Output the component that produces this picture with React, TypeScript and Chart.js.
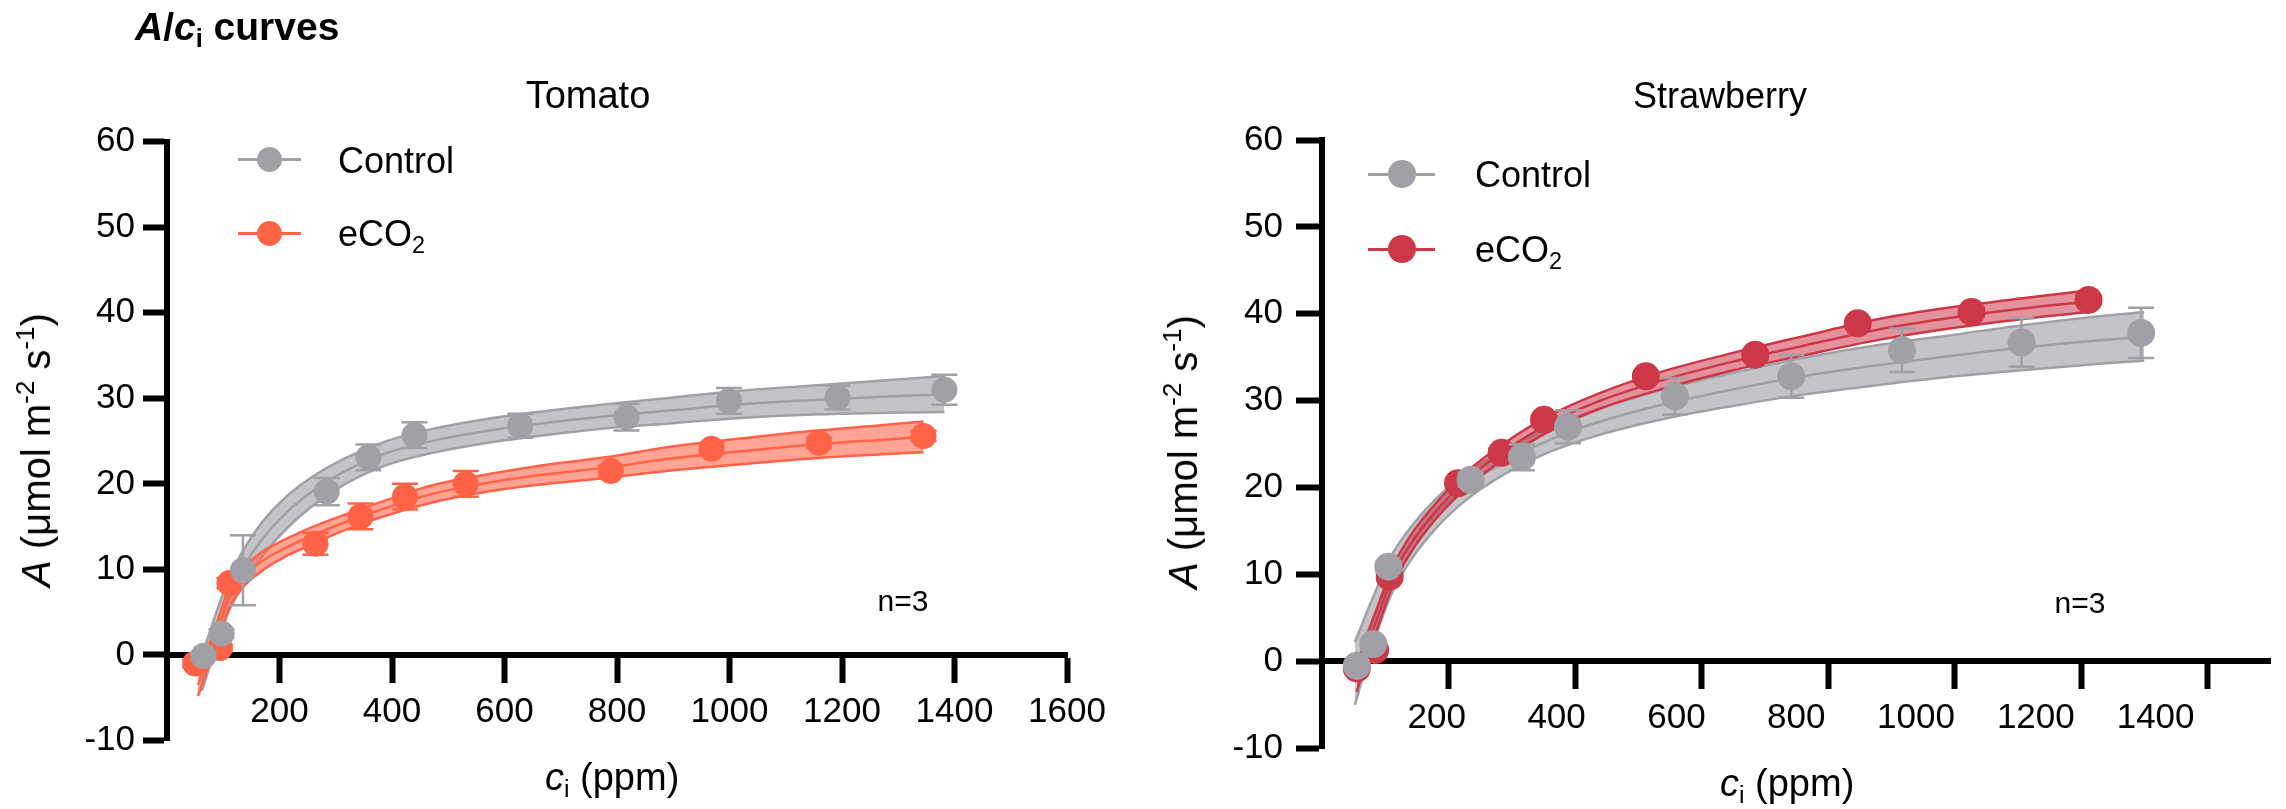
import React, { useEffect, useRef } from 'react';
import { Chart, registerables } from 'chart.js';

Chart.register(...registerables);

const FONT = '"Liberation Sans", Arial, Helvetica, sans-serif';

// ---------- Tomato: measured points (mean, SD) ----------
const tomatoCtrlCi = [65, 97, 135, 284, 358, 440, 628, 817, 999, 1192, 1382];
const tomatoCtrlA = [-0.1, 2.5, 9.9, 19.1, 23.1, 25.7, 26.8, 27.8, 29.7, 30.1, 31.0];
const tomatoCtrlSd = [0.4, 0.5, 4.1, 1.6, 1.5, 1.5, 1.4, 1.55, 1.5, 1.4, 1.75];
const tomatoECi = [50, 94, 111, 264, 344, 423, 531, 789, 968, 1159, 1345];
const tomatoEA = [-1.0, 0.8, 8.4, 13.0, 16.2, 18.5, 20.0, 21.5, 24.1, 24.8, 25.6];
const tomatoESd = [0.4, 0.4, 0.6, 1.3, 1.5, 1.5, 1.5, 0.6, 0.6, 0.6, 0.6];

// ---------- Tomato: fitted curves + confidence band ----------
const tomatoCtrlFitCi = [62, 75, 90, 110, 135, 170, 210, 260, 320, 390, 470, 560, 660, 780, 900, 1020, 1150, 1280, 1382];
const tomatoCtrlFit = [-2.5, 0.5, 3.5, 7.0, 10.2, 13.6, 16.5, 19.2, 21.6, 23.6, 25.0, 26.1, 27.0, 27.9, 28.6, 29.3, 29.8, 30.2, 30.5];
const tomatoCtrlLo = [-4.2, -1.5, 1.6, 5.1, 8.2, 11.6, 14.6, 17.5, 20.1, 22.2, 23.6, 24.7, 25.6, 26.5, 27.1, 27.7, 28.1, 28.3, 28.4];
const tomatoCtrlHi = [-0.3, 2.5, 5.4, 8.9, 12.2, 15.6, 18.4, 20.9, 23.1, 25.0, 26.4, 27.5, 28.4, 29.3, 30.1, 30.9, 31.5, 32.1, 32.6];
const tomatoEFitCi = [55, 70, 90, 110, 135, 170, 210, 260, 320, 390, 470, 560, 660, 780, 900, 1020, 1150, 1280, 1345];
const tomatoEFit = [-3.5, -0.8, 2.8, 6.6, 9.0, 11.0, 12.5, 14.0, 15.6, 17.2, 18.8, 20.0, 21.0, 21.9, 23.0, 23.8, 24.6, 25.2, 25.5];
const tomatoELo = [-4.8, -2.0, 1.6, 5.4, 7.9, 9.9, 11.5, 13.0, 14.7, 16.3, 17.8, 19.0, 19.9, 20.7, 21.6, 22.3, 23.0, 23.5, 23.7];
const tomatoEHi = [-2.2, 0.4, 4.0, 7.8, 10.1, 12.1, 13.5, 15.0, 16.5, 18.1, 19.8, 21.0, 22.1, 23.1, 24.4, 25.3, 26.2, 26.9, 27.3];

// ---------- Strawberry: measured points ----------
const strawCtrlCi = [55, 81, 105, 235, 316, 389, 558, 742, 917, 1106, 1295];
const strawCtrlA = [-0.5, 2.0, 10.9, 20.9, 23.5, 27.0, 30.5, 32.8, 35.8, 36.7, 37.8];
const strawCtrlSd = [0.5, 0.5, 0.6, 0.8, 1.5, 1.9, 2.1, 2.45, 2.5, 2.8, 2.9];
const strawECi = [55, 84, 107, 215, 284, 351, 512, 685, 847, 1027, 1212];
const strawEA = [-0.8, 1.3, 9.75, 20.5, 24.0, 27.8, 32.8, 35.3, 38.9, 40.2, 41.6];
const strawESd = [0.4, 0.4, 0.5, 0.5, 0.5, 0.5, 0.5, 0.5, 0.5, 0.5, 0.5];

// ---------- Strawberry: fitted curves + confidence band ----------
const strawCtrlFitCi = [52, 70, 90, 110, 140, 180, 230, 290, 360, 440, 540, 650, 760, 880, 1000, 1120, 1240, 1300];
const strawCtrlFit = [-1.5, 2.5, 6.5, 10.0, 13.5, 17.0, 20.2, 23.0, 25.5, 27.6, 29.6, 31.3, 32.8, 34.1, 35.2, 36.2, 37.0, 37.3];
const strawCtrlLo = [-5.0, -0.5, 4.0, 7.8, 11.6, 15.3, 18.7, 21.6, 24.1, 26.1, 27.9, 29.4, 30.7, 31.8, 32.8, 33.6, 34.3, 34.6];
const strawCtrlHi = [2.2, 5.5, 9.0, 12.2, 15.4, 18.7, 21.7, 24.4, 26.9, 29.1, 31.3, 33.2, 34.9, 36.4, 37.6, 38.8, 39.8, 40.2];
const strawEFitCi = [55, 70, 90, 110, 140, 180, 230, 290, 360, 440, 540, 650, 760, 880, 1000, 1120, 1212];
const strawEFit = [-2.0, 1.5, 5.5, 9.5, 13.5, 17.3, 21.0, 24.3, 27.4, 30.0, 32.4, 34.5, 36.3, 38.2, 39.6, 40.7, 41.4];
const strawELo = [-3.5, 0.2, 4.3, 8.4, 12.5, 16.4, 20.1, 23.4, 26.5, 29.1, 31.4, 33.5, 35.2, 37.0, 38.4, 39.5, 40.2];
const strawEHi = [-0.5, 2.8, 6.7, 10.6, 14.5, 18.2, 21.9, 25.2, 28.3, 30.9, 33.4, 35.5, 37.4, 39.4, 40.8, 41.9, 42.7];

// ---------- tick labels ----------
const yTicks = [-10, 0, 10, 20, 30, 40, 50, 60];
const tomatoXTicks = [200, 400, 600, 800, 1000, 1200, 1400, 1600];
const strawXTicks = [200, 400, 600, 800, 1000, 1200, 1400];

const GRAY = 'rgb(160,160,166)';
const GRAY_FILL = 'rgba(160,160,166,0.62)';
const TOMATO = 'rgb(255,99,71)';
const TOMATO_FILL = 'rgba(255,99,71,0.58)';
const STRAW = 'rgb(204,56,72)';
const STRAW_FILL = 'rgba(204,56,72,0.55)';

type Pt = { x: number; y: number };
const pts = (xs: number[], ys: number[]): Pt[] => xs.map((x, i) => ({ x, y: ys[i] }));

interface Series {
  color: string;
  fill: string;
  ci: number[];
  a: number[];
  sd: number[];
  fitCi: number[];
  fit: number[];
  lo: number[];
  hi: number[];
}

const errorBarPlugin = {
  id: 'errorBars',
  beforeDatasetDraw(chart: any, args: any) {
    const ds = chart.data.datasets[args.index];
    if (!ds.errorBars) return;
    const { ctx, scales } = chart;
    const xs = scales.x;
    const ys = scales.y;
    const cap = 13;
    ctx.save();
    ctx.strokeStyle = ds.errorColor;
    ctx.lineWidth = 2.5;
    ds.data.forEach((p: Pt, i: number) => {
      const e = ds.errorBars[i];
      const px = xs.getPixelForValue(p.x);
      const top = ys.getPixelForValue(p.y + e);
      const bot = ys.getPixelForValue(p.y - e);
      ctx.beginPath();
      ctx.moveTo(px, top);
      ctx.lineTo(px, bot);
      ctx.moveTo(px - cap, top);
      ctx.lineTo(px + cap, top);
      ctx.moveTo(px - cap, bot);
      ctx.lineTo(px + cap, bot);
      ctx.stroke();
    });
    ctx.restore();
  },
};

const lineDs = (data: Pt[], color: string, order: number, fill: any = false, bg = 'transparent') => ({
  data,
  xAxisID: 'x',
  yAxisID: 'y',
  borderColor: color,
  borderWidth: 2.5,
  pointRadius: 0,
  pointHoverRadius: 0,
  cubicInterpolationMode: 'monotone',
  fill,
  backgroundColor: bg,
  order,
});

const pointDs = (s: Series, order: number, radius: number) => ({
  data: pts(s.ci, s.a),
  xAxisID: 'x',
  yAxisID: 'y',
  showLine: false,
  pointRadius: radius,
  pointHoverRadius: radius,
  pointBorderWidth: 0,
  pointBackgroundColor: s.color,
  borderColor: s.color,
  errorBars: s.sd,
  errorColor: s.color,
  order,
});

const buildDatasets = (ctrl: Series, eco: Series, radius: number) => [
  pointDs(ctrl, 0, radius),
  pointDs(eco, 1, radius),
  lineDs(pts(eco.fitCi, eco.fit), eco.color, 2),
  lineDs(pts(eco.fitCi, eco.hi), eco.color, 3, '+1', eco.fill),
  lineDs(pts(eco.fitCi, eco.lo), eco.color, 3),
  lineDs(pts(ctrl.fitCi, ctrl.fit), ctrl.color, 4),
  lineDs(pts(ctrl.fitCi, ctrl.hi), ctrl.color, 5, '+1', ctrl.fill),
  lineDs(pts(ctrl.fitCi, ctrl.lo), ctrl.color, 5),
];

interface PanelProps {
  left: number;
  width: number;
  height: number;
  areaLeft: number;
  pad: { top: number; right: number; bottom: number };
  xMax: number;
  xTicks: number[];
  yTickLen: number;
  yPad: number;
  xPad: number;
  labelAxis?: { min: number; max: number; padding: number };
  radius: number;
  ctrl: Series;
  eco: Series;
}

const tickFont = { family: FONT, size: 35 };

const Panel: React.FC<PanelProps> = (p) => {
  const ref = useRef<HTMLCanvasElement | null>(null);

  useEffect(() => {
    if (!ref.current) return;
    const setTicks = (arr: number[]) => (scale: any) => {
      scale.ticks = arr.map((v) => ({ value: v }));
    };
    const scales: any = {
      x: {
        type: 'linear',
        axis: 'x',
        position: { y: 0 },
        min: 0,
        max: p.xMax,
        afterBuildTicks: setTicks(p.xTicks),
        ticks: {
          display: !p.labelAxis,
          color: '#000',
          font: tickFont,
          padding: p.xPad,
          maxRotation: 0,
          autoSkip: false,
          callback: (v: number) => String(v),
        },
        grid: {
          display: true,
          drawOnChartArea: false,
          drawTicks: true,
          tickLength: 25,
          tickWidth: 6,
          tickColor: '#000',
        },
        border: { display: true, color: '#000', width: 6 },
      },
      y: {
        type: 'linear',
        position: 'left',
        min: -10,
        max: 60,
        afterBuildTicks: setTicks(yTicks),
        afterFit: (scale: any) => {
          scale.width = p.areaLeft;
        },
        ticks: {
          color: '#000',
          font: tickFont,
          padding: p.yPad,
          callback: (v: number) => String(v),
        },
        grid: {
          display: true,
          drawOnChartArea: false,
          drawTicks: true,
          tickLength: p.yTickLen,
          tickWidth: 6,
          tickColor: '#000',
        },
        border: { display: true, color: '#000', width: 6 },
      },
    };
    if (p.labelAxis) {
      // label-only axis: the original places its c_i labels slightly off the tick marks
      scales.xl = {
        type: 'linear',
        axis: 'x',
        position: { y: 0 },
        min: p.labelAxis.min,
        max: p.labelAxis.max,
        afterBuildTicks: setTicks(p.xTicks),
        ticks: {
          color: '#000',
          font: tickFont,
          padding: p.labelAxis.padding,
          maxRotation: 0,
          autoSkip: false,
          callback: (v: number) => String(v),
        },
        grid: { display: false, drawTicks: false },
        border: { display: false },
      };
    }

    const chart = new Chart(ref.current, {
      type: 'line',
      data: { datasets: buildDatasets(p.ctrl, p.eco, p.radius) as any },
      options: {
        responsive: false,
        maintainAspectRatio: false,
        animation: false,
        layout: { padding: { left: 0, top: p.pad.top, right: p.pad.right, bottom: p.pad.bottom } },
        plugins: {
          legend: { display: false },
          tooltip: { enabled: false },
        },
        events: [],
        scales,
      },
      plugins: [errorBarPlugin],
    });

    return () => {
      chart.destroy();
    };
  }, [p]);

  return (
    <canvas
      ref={ref}
      width={p.width}
      height={p.height}
      style={{ position: 'absolute', left: p.left, top: 0, width: p.width, height: p.height }}
    />
  );
};

// ---------- HTML text helpers ----------
const Sub: React.FC<{ children: React.ReactNode }> = ({ children }) => (
  <span style={{ fontSize: '0.65em', verticalAlign: '-0.28em', lineHeight: 0 }}>{children}</span>
);
const Sup: React.FC<{ children: React.ReactNode }> = ({ children }) => (
  <span style={{ fontSize: '0.65em', verticalAlign: '0.6em', lineHeight: 0 }}>{children}</span>
);

const Txt: React.FC<{
  x: number;
  base: number;
  size: number;
  center?: boolean;
  bold?: boolean;
  children: React.ReactNode;
}> = ({ x, base, size, center, bold, children }) => (
  <div
    style={{
      position: 'absolute',
      left: x,
      top: base - 0.8465 * size,
      fontSize: size,
      lineHeight: `${size}px`,
      fontFamily: FONT,
      fontWeight: bold ? 'bold' : 'normal',
      whiteSpace: 'nowrap',
      color: '#000',
      transform: center ? 'translateX(-50%)' : undefined,
    }}
  >
    {children}
  </div>
);

const YTitle: React.FC<{ cx: number; cy: number }> = ({ cx, cy }) => (
  <div
    style={{
      position: 'absolute',
      left: cx,
      top: cy,
      fontSize: 40,
      lineHeight: '40px',
      fontFamily: FONT,
      whiteSpace: 'nowrap',
      color: '#000',
      transform: 'translate(-50%,-50%) rotate(-90deg)',
    }}
  >
    <i>A</i> (μmol m<Sup>-2</Sup> s<Sup>-1</Sup>)
  </div>
);

const LegendMark: React.FC<{ x1: number; x2: number; y: number; r: number; color: string }> = ({ x1, x2, y, r, color }) => (
  <>
    <div style={{ position: 'absolute', left: x1, top: y - 1.5, width: x2 - x1, height: 3, background: color }} />
    <div
      style={{
        position: 'absolute',
        left: (x1 + x2) / 2 - r,
        top: y - r,
        width: 2 * r,
        height: 2 * r,
        borderRadius: '50%',
        background: color,
      }}
    />
  </>
);

const tomatoCtrl: Series = {
  color: GRAY, fill: GRAY_FILL, ci: tomatoCtrlCi, a: tomatoCtrlA, sd: tomatoCtrlSd,
  fitCi: tomatoCtrlFitCi, fit: tomatoCtrlFit, lo: tomatoCtrlLo, hi: tomatoCtrlHi,
};
const tomatoE: Series = {
  color: TOMATO, fill: TOMATO_FILL, ci: tomatoECi, a: tomatoEA, sd: tomatoESd,
  fitCi: tomatoEFitCi, fit: tomatoEFit, lo: tomatoELo, hi: tomatoEHi,
};
const strawCtrl: Series = {
  color: GRAY, fill: GRAY_FILL, ci: strawCtrlCi, a: strawCtrlA, sd: strawCtrlSd,
  fitCi: strawCtrlFitCi, fit: strawCtrlFit, lo: strawCtrlLo, hi: strawCtrlHi,
};
const strawE: Series = {
  color: STRAW, fill: STRAW_FILL, ci: strawECi, a: strawEA, sd: strawESd,
  fitCi: strawEFitCi, fit: strawEFit, lo: strawELo, hi: strawEHi,
};

const leftPanel: PanelProps = {
  left: 0, width: 1143, height: 809, areaLeft: 167,
  pad: { top: 141.7, right: 76, bottom: 68.5 },
  xMax: 1600, xTicks: tomatoXTicks, yTickLen: 24, yPad: 8, xPad: 11,
  radius: 13, ctrl: tomatoCtrl, eco: tomatoE,
};
const rightPanel: PanelProps = {
  left: 1143, width: 1143, height: 809, areaLeft: 179,
  pad: { top: 140, right: 15.25, bottom: 60.7 },
  xMax: 1500, xTicks: strawXTicks, yTickLen: 26, yPad: 13, xPad: 11,
  labelAxis: { min: 8.35, max: 1592.2, padding: 35.5 },
  radius: 14, ctrl: strawCtrl, eco: strawE,
};

const App: React.FC = () => (
  <div style={{ position: 'absolute', left: 0, top: 0, width: 2286, height: 809, background: '#fff', overflow: 'hidden' }}>
    <Panel {...leftPanel} />
    <Panel {...rightPanel} />

    <Txt x={135} base={40} size={39} bold>
      <i>A</i>/<i>c</i><Sub>i</Sub> curves
    </Txt>

    {/* Tomato */}
    <Txt x={588} base={108} size={38} center>Tomato</Txt>
    <LegendMark x1={238} x2={301} y={159.5} r={12.5} color={GRAY} />
    <Txt x={338} base={173} size={36}>Control</Txt>
    <LegendMark x1={238} x2={301} y={233} r={12.5} color={TOMATO} />
    <Txt x={338} base={246} size={36}>eCO<Sub>2</Sub></Txt>
    <YTitle cx={36} cy={450} />
    <Txt x={545} base={790} size={38}><i>c</i><Sub>i</Sub> (ppm)</Txt>
    <Txt x={903} base={611} size={30} center>n=3</Txt>

    {/* Strawberry */}
    <Txt x={1633} base={108} size={36}>Strawberry</Txt>
    <LegendMark x1={1368} x2={1435} y={174} r={14} color={GRAY} />
    <Txt x={1475} base={187} size={36}>Control</Txt>
    <LegendMark x1={1368} x2={1435} y={249} r={14} color={STRAW} />
    <Txt x={1475} base={262} size={36}>eCO<Sub>2</Sub></Txt>
    <YTitle cx={1183} cy={452} />
    <Txt x={1720} base={796} size={38}><i>c</i><Sub>i</Sub> (ppm)</Txt>
    <Txt x={2080} base={613} size={30} center>n=3</Txt>
  </div>
);

export default App;
